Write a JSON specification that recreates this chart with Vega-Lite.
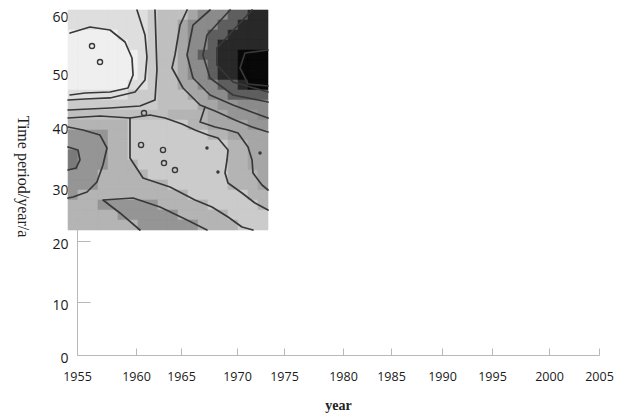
{
"$schema": "https://vega.github.io/schema/vega-lite/v6.json",
"width": 522, "height": 341,
"autosize": {"type": "none"},
"padding": {"left": 77, "top": 14, "right": 28, "bottom": 60},
"background": "white",
"config": {"view": {"stroke": null}, "axis": {"grid": false, "domainColor": "#b8b8b8", "tickColor": "#b8b8b8", "labelFont": "Open Sans", "labelColor": "#1a1a1a", "titleFont": "Liberation Serif", "titleColor": "#222222"}},
"datasets": {
"cols": [{"c":0,"x0":1954.24,"x1":1955.08},{"c":1,"x0":1955.08,"x1":1955.93},{"c":2,"x0":1955.93,"x1":1956.78},{"c":3,"x0":1956.78,"x1":1957.63},{"c":4,"x0":1957.63,"x1":1958.47},{"c":5,"x0":1958.47,"x1":1959.32},{"c":6,"x0":1959.32,"x1":1960.22},{"c":7,"x0":1960.22,"x1":1961.33},{"c":8,"x0":1961.33,"x1":1962.44},{"c":9,"x0":1962.44,"x1":1963.56},{"c":10,"x0":1963.56,"x1":1964.67},{"c":11,"x0":1964.67,"x1":1965.63},{"c":12,"x0":1965.63,"x1":1966.52},{"c":13,"x0":1966.52,"x1":1967.41},{"c":14,"x0":1967.41,"x1":1968.3},{"c":15,"x0":1968.3,"x1":1969.2},{"c":16,"x0":1969.2,"x1":1970.11},{"c":17,"x0":1970.11,"x1":1971.17},{"c":18,"x0":1971.17,"x1":1972.23},{"c":19,"x0":1972.23,"x1":1973.3}],
"rows": [{"r":0,"y0":60.69,"y1":58.97},{"r":1,"y0":58.97,"y1":57.24},{"r":2,"y0":57.24,"y1":55.52},{"r":3,"y0":55.52,"y1":53.79},{"r":4,"y0":53.79,"y1":52.07},{"r":5,"y0":52.07,"y1":50.34},{"r":6,"y0":50.34,"y1":48.52},{"r":7,"y0":48.52,"y1":46.67},{"r":8,"y0":46.67,"y1":44.81},{"r":9,"y0":44.81,"y1":42.96},{"r":10,"y0":42.96,"y1":41.11},{"r":11,"y0":41.11,"y1":39.34},{"r":12,"y0":39.34,"y1":37.7},{"r":13,"y0":37.7,"y1":36.07},{"r":14,"y0":36.07,"y1":34.43},{"r":15,"y0":34.43,"y1":32.79},{"r":16,"y0":32.79,"y1":31.15},{"r":17,"y0":31.15,"y1":29.44},{"r":18,"y0":29.44,"y1":27.59},{"r":19,"y0":27.59,"y1":25.74},{"r":20,"y0":25.74,"y1":23.89},{"r":21,"y0":23.89,"y1":22.04}],
"cells": [
{"c":0,"r":0,"v":1},{"c":1,"r":0,"v":1},{"c":2,"r":0,"v":1},{"c":3,"r":0,"v":1},{"c":4,"r":0,"v":1},{"c":5,"r":0,"v":1},{"c":6,"r":0,"v":1},{"c":7,"r":0,"v":1},{"c":8,"r":0,"v":2},{"c":9,"r":0,"v":3},{"c":10,"r":0,"v":3},{"c":11,"r":0,"v":3},{"c":12,"r":0,"v":5},{"c":13,"r":0,"v":7},{"c":14,"r":0,"v":7},{"c":15,"r":0,"v":7},{"c":16,"r":0,"v":9},{"c":17,"r":0,"v":9},{"c":18,"r":0,"v":11},{"c":19,"r":0,"v":11},
{"c":0,"r":1,"v":1},{"c":1,"r":1,"v":1},{"c":2,"r":1,"v":1},{"c":3,"r":1,"v":1},{"c":4,"r":1,"v":1},{"c":5,"r":1,"v":1},{"c":6,"r":1,"v":1},{"c":7,"r":1,"v":1},{"c":8,"r":1,"v":2},{"c":9,"r":1,"v":3},{"c":10,"r":1,"v":3},{"c":11,"r":1,"v":5},{"c":12,"r":1,"v":7},{"c":13,"r":1,"v":7},{"c":14,"r":1,"v":7},{"c":15,"r":1,"v":9},{"c":16,"r":1,"v":9},{"c":17,"r":1,"v":11},{"c":18,"r":1,"v":11},{"c":19,"r":1,"v":11},
{"c":0,"r":2,"v":0},{"c":1,"r":2,"v":0},{"c":2,"r":2,"v":0},{"c":3,"r":2,"v":0},{"c":4,"r":2,"v":0},{"c":5,"r":2,"v":1},{"c":6,"r":2,"v":1},{"c":7,"r":2,"v":1},{"c":8,"r":2,"v":2},{"c":9,"r":2,"v":3},{"c":10,"r":2,"v":3},{"c":11,"r":2,"v":5},{"c":12,"r":2,"v":7},{"c":13,"r":2,"v":7},{"c":14,"r":2,"v":9},{"c":15,"r":2,"v":9},{"c":16,"r":2,"v":11},{"c":17,"r":2,"v":11},{"c":18,"r":2,"v":11},{"c":19,"r":2,"v":11},
{"c":0,"r":3,"v":0},{"c":1,"r":3,"v":0},{"c":2,"r":3,"v":0},{"c":3,"r":3,"v":0},{"c":4,"r":3,"v":0},{"c":5,"r":3,"v":0},{"c":6,"r":3,"v":1},{"c":7,"r":3,"v":1},{"c":8,"r":3,"v":2},{"c":9,"r":3,"v":3},{"c":10,"r":3,"v":3},{"c":11,"r":3,"v":5},{"c":12,"r":3,"v":7},{"c":13,"r":3,"v":7},{"c":14,"r":3,"v":9},{"c":15,"r":3,"v":11},{"c":16,"r":3,"v":11},{"c":17,"r":3,"v":11},{"c":18,"r":3,"v":11},{"c":19,"r":3,"v":11},
{"c":0,"r":4,"v":0},{"c":1,"r":4,"v":0},{"c":2,"r":4,"v":0},{"c":3,"r":4,"v":0},{"c":4,"r":4,"v":0},{"c":5,"r":4,"v":0},{"c":6,"r":4,"v":0},{"c":7,"r":4,"v":1},{"c":8,"r":4,"v":2},{"c":9,"r":4,"v":3},{"c":10,"r":4,"v":3},{"c":11,"r":4,"v":5},{"c":12,"r":4,"v":7},{"c":13,"r":4,"v":9},{"c":14,"r":4,"v":9},{"c":15,"r":4,"v":11},{"c":16,"r":4,"v":11},{"c":17,"r":4,"v":12},{"c":18,"r":4,"v":12},{"c":19,"r":4,"v":12},
{"c":0,"r":5,"v":0},{"c":1,"r":5,"v":0},{"c":2,"r":5,"v":0},{"c":3,"r":5,"v":0},{"c":4,"r":5,"v":0},{"c":5,"r":5,"v":0},{"c":6,"r":5,"v":0},{"c":7,"r":5,"v":1},{"c":8,"r":5,"v":2},{"c":9,"r":5,"v":3},{"c":10,"r":5,"v":3},{"c":11,"r":5,"v":5},{"c":12,"r":5,"v":7},{"c":13,"r":5,"v":7},{"c":14,"r":5,"v":9},{"c":15,"r":5,"v":11},{"c":16,"r":5,"v":11},{"c":17,"r":5,"v":12},{"c":18,"r":5,"v":12},{"c":19,"r":5,"v":12},
{"c":0,"r":6,"v":0},{"c":1,"r":6,"v":0},{"c":2,"r":6,"v":0},{"c":3,"r":6,"v":0},{"c":4,"r":6,"v":0},{"c":5,"r":6,"v":0},{"c":6,"r":6,"v":0},{"c":7,"r":6,"v":1},{"c":8,"r":6,"v":2},{"c":9,"r":6,"v":3},{"c":10,"r":6,"v":3},{"c":11,"r":6,"v":5},{"c":12,"r":6,"v":7},{"c":13,"r":6,"v":7},{"c":14,"r":6,"v":9},{"c":15,"r":6,"v":11},{"c":16,"r":6,"v":11},{"c":17,"r":6,"v":12},{"c":18,"r":6,"v":12},{"c":19,"r":6,"v":12},
{"c":0,"r":7,"v":0},{"c":1,"r":7,"v":0},{"c":2,"r":7,"v":0},{"c":3,"r":7,"v":0},{"c":4,"r":7,"v":0},{"c":5,"r":7,"v":0},{"c":6,"r":7,"v":1},{"c":7,"r":7,"v":1},{"c":8,"r":7,"v":2},{"c":9,"r":7,"v":3},{"c":10,"r":7,"v":3},{"c":11,"r":7,"v":5},{"c":12,"r":7,"v":5},{"c":13,"r":7,"v":7},{"c":14,"r":7,"v":7},{"c":15,"r":7,"v":9},{"c":16,"r":7,"v":9},{"c":17,"r":7,"v":11},{"c":18,"r":7,"v":12},{"c":19,"r":7,"v":12},
{"c":0,"r":8,"v":1},{"c":1,"r":8,"v":1},{"c":2,"r":8,"v":1},{"c":3,"r":8,"v":1},{"c":4,"r":8,"v":1},{"c":5,"r":8,"v":1},{"c":6,"r":8,"v":2},{"c":7,"r":8,"v":2},{"c":8,"r":8,"v":2},{"c":9,"r":8,"v":3},{"c":10,"r":8,"v":3},{"c":11,"r":8,"v":3},{"c":12,"r":8,"v":5},{"c":13,"r":8,"v":5},{"c":14,"r":8,"v":7},{"c":15,"r":8,"v":7},{"c":16,"r":8,"v":9},{"c":17,"r":8,"v":9},{"c":18,"r":8,"v":9},{"c":19,"r":8,"v":9},
{"c":0,"r":9,"v":2},{"c":1,"r":9,"v":2},{"c":2,"r":9,"v":2},{"c":3,"r":9,"v":2},{"c":4,"r":9,"v":2},{"c":5,"r":9,"v":2},{"c":6,"r":9,"v":2},{"c":7,"r":9,"v":2},{"c":8,"r":9,"v":2},{"c":9,"r":9,"v":3},{"c":10,"r":9,"v":3},{"c":11,"r":9,"v":3},{"c":12,"r":9,"v":3},{"c":13,"r":9,"v":5},{"c":14,"r":9,"v":5},{"c":15,"r":9,"v":6},{"c":16,"r":9,"v":6},{"c":17,"r":9,"v":7},{"c":18,"r":9,"v":7},{"c":19,"r":9,"v":7},
{"c":0,"r":10,"v":3},{"c":1,"r":10,"v":3},{"c":2,"r":10,"v":3},{"c":3,"r":10,"v":3},{"c":4,"r":10,"v":3},{"c":5,"r":10,"v":3},{"c":6,"r":10,"v":3},{"c":7,"r":10,"v":3},{"c":8,"r":10,"v":3},{"c":9,"r":10,"v":3},{"c":10,"r":10,"v":4},{"c":11,"r":10,"v":4},{"c":12,"r":10,"v":4},{"c":13,"r":10,"v":4},{"c":14,"r":10,"v":5},{"c":15,"r":10,"v":5},{"c":16,"r":10,"v":6},{"c":17,"r":10,"v":6},{"c":18,"r":10,"v":6},{"c":19,"r":10,"v":7},
{"c":0,"r":11,"v":4},{"c":1,"r":11,"v":4},{"c":2,"r":11,"v":4},{"c":3,"r":11,"v":4},{"c":4,"r":11,"v":4},{"c":5,"r":11,"v":4},{"c":6,"r":11,"v":2},{"c":7,"r":11,"v":2},{"c":8,"r":11,"v":2},{"c":9,"r":11,"v":2},{"c":10,"r":11,"v":2},{"c":11,"r":11,"v":2},{"c":12,"r":11,"v":4},{"c":13,"r":11,"v":4},{"c":14,"r":11,"v":5},{"c":15,"r":11,"v":5},{"c":16,"r":11,"v":5},{"c":17,"r":11,"v":5},{"c":18,"r":11,"v":6},{"c":19,"r":11,"v":6},
{"c":0,"r":12,"v":6},{"c":1,"r":12,"v":6},{"c":2,"r":12,"v":6},{"c":3,"r":12,"v":6},{"c":4,"r":12,"v":4},{"c":5,"r":12,"v":4},{"c":6,"r":12,"v":2},{"c":7,"r":12,"v":2},{"c":8,"r":12,"v":2},{"c":9,"r":12,"v":2},{"c":10,"r":12,"v":2},{"c":11,"r":12,"v":2},{"c":12,"r":12,"v":2},{"c":13,"r":12,"v":2},{"c":14,"r":12,"v":4},{"c":15,"r":12,"v":4},{"c":16,"r":12,"v":5},{"c":17,"r":12,"v":5},{"c":18,"r":12,"v":5},{"c":19,"r":12,"v":5},
{"c":0,"r":13,"v":6},{"c":1,"r":13,"v":6},{"c":2,"r":13,"v":6},{"c":3,"r":13,"v":6},{"c":4,"r":13,"v":4},{"c":5,"r":13,"v":4},{"c":6,"r":13,"v":2},{"c":7,"r":13,"v":2},{"c":8,"r":13,"v":2},{"c":9,"r":13,"v":2},{"c":10,"r":13,"v":2},{"c":11,"r":13,"v":2},{"c":12,"r":13,"v":2},{"c":13,"r":13,"v":2},{"c":14,"r":13,"v":2},{"c":15,"r":13,"v":2},{"c":16,"r":13,"v":4},{"c":17,"r":13,"v":4},{"c":18,"r":13,"v":5},{"c":19,"r":13,"v":5},
{"c":0,"r":14,"v":8},{"c":1,"r":14,"v":6},{"c":2,"r":14,"v":6},{"c":3,"r":14,"v":6},{"c":4,"r":14,"v":4},{"c":5,"r":14,"v":4},{"c":6,"r":14,"v":2},{"c":7,"r":14,"v":2},{"c":8,"r":14,"v":2},{"c":9,"r":14,"v":2},{"c":10,"r":14,"v":2},{"c":11,"r":14,"v":2},{"c":12,"r":14,"v":2},{"c":13,"r":14,"v":2},{"c":14,"r":14,"v":2},{"c":15,"r":14,"v":2},{"c":16,"r":14,"v":4},{"c":17,"r":14,"v":4},{"c":18,"r":14,"v":5},{"c":19,"r":14,"v":5},
{"c":0,"r":15,"v":8},{"c":1,"r":15,"v":6},{"c":2,"r":15,"v":6},{"c":3,"r":15,"v":6},{"c":4,"r":15,"v":4},{"c":5,"r":15,"v":4},{"c":6,"r":15,"v":4},{"c":7,"r":15,"v":2},{"c":8,"r":15,"v":2},{"c":9,"r":15,"v":2},{"c":10,"r":15,"v":2},{"c":11,"r":15,"v":2},{"c":12,"r":15,"v":2},{"c":13,"r":15,"v":2},{"c":14,"r":15,"v":2},{"c":15,"r":15,"v":2},{"c":16,"r":15,"v":4},{"c":17,"r":15,"v":4},{"c":18,"r":15,"v":5},{"c":19,"r":15,"v":5},
{"c":0,"r":16,"v":6},{"c":1,"r":16,"v":6},{"c":2,"r":16,"v":6},{"c":3,"r":16,"v":4},{"c":4,"r":16,"v":4},{"c":5,"r":16,"v":4},{"c":6,"r":16,"v":4},{"c":7,"r":16,"v":4},{"c":8,"r":16,"v":2},{"c":9,"r":16,"v":2},{"c":10,"r":16,"v":2},{"c":11,"r":16,"v":2},{"c":12,"r":16,"v":2},{"c":13,"r":16,"v":2},{"c":14,"r":16,"v":2},{"c":15,"r":16,"v":2},{"c":16,"r":16,"v":4},{"c":17,"r":16,"v":4},{"c":18,"r":16,"v":4},{"c":19,"r":16,"v":5},
{"c":0,"r":17,"v":6},{"c":1,"r":17,"v":6},{"c":2,"r":17,"v":6},{"c":3,"r":17,"v":4},{"c":4,"r":17,"v":4},{"c":5,"r":17,"v":4},{"c":6,"r":17,"v":4},{"c":7,"r":17,"v":4},{"c":8,"r":17,"v":4},{"c":9,"r":17,"v":4},{"c":10,"r":17,"v":2},{"c":11,"r":17,"v":2},{"c":12,"r":17,"v":2},{"c":13,"r":17,"v":2},{"c":14,"r":17,"v":2},{"c":15,"r":17,"v":2},{"c":16,"r":17,"v":4},{"c":17,"r":17,"v":4},{"c":18,"r":17,"v":4},{"c":19,"r":17,"v":5},
{"c":0,"r":18,"v":6},{"c":1,"r":18,"v":4},{"c":2,"r":18,"v":4},{"c":3,"r":18,"v":4},{"c":4,"r":18,"v":4},{"c":5,"r":18,"v":4},{"c":6,"r":18,"v":4},{"c":7,"r":18,"v":4},{"c":8,"r":18,"v":4},{"c":9,"r":18,"v":4},{"c":10,"r":18,"v":4},{"c":11,"r":18,"v":4},{"c":12,"r":18,"v":2},{"c":13,"r":18,"v":2},{"c":14,"r":18,"v":2},{"c":15,"r":18,"v":2},{"c":16,"r":18,"v":2},{"c":17,"r":18,"v":2},{"c":18,"r":18,"v":4},{"c":19,"r":18,"v":4},
{"c":0,"r":19,"v":4},{"c":1,"r":19,"v":4},{"c":2,"r":19,"v":4},{"c":3,"r":19,"v":6},{"c":4,"r":19,"v":6},{"c":5,"r":19,"v":6},{"c":6,"r":19,"v":6},{"c":7,"r":19,"v":6},{"c":8,"r":19,"v":6},{"c":9,"r":19,"v":4},{"c":10,"r":19,"v":4},{"c":11,"r":19,"v":4},{"c":12,"r":19,"v":4},{"c":13,"r":19,"v":4},{"c":14,"r":19,"v":2},{"c":15,"r":19,"v":2},{"c":16,"r":19,"v":2},{"c":17,"r":19,"v":2},{"c":18,"r":19,"v":2},{"c":19,"r":19,"v":4},
{"c":0,"r":20,"v":4},{"c":1,"r":20,"v":4},{"c":2,"r":20,"v":4},{"c":3,"r":20,"v":4},{"c":4,"r":20,"v":4},{"c":5,"r":20,"v":6},{"c":6,"r":20,"v":6},{"c":7,"r":20,"v":6},{"c":8,"r":20,"v":6},{"c":9,"r":20,"v":6},{"c":10,"r":20,"v":6},{"c":11,"r":20,"v":4},{"c":12,"r":20,"v":4},{"c":13,"r":20,"v":4},{"c":14,"r":20,"v":4},{"c":15,"r":20,"v":4},{"c":16,"r":20,"v":2},{"c":17,"r":20,"v":2},{"c":18,"r":20,"v":2},{"c":19,"r":20,"v":2},
{"c":0,"r":21,"v":4},{"c":1,"r":21,"v":4},{"c":2,"r":21,"v":4},{"c":3,"r":21,"v":4},{"c":4,"r":21,"v":4},{"c":5,"r":21,"v":4},{"c":6,"r":21,"v":4},{"c":7,"r":21,"v":6},{"c":8,"r":21,"v":6},{"c":9,"r":21,"v":6},{"c":10,"r":21,"v":6},{"c":11,"r":21,"v":6},{"c":12,"r":21,"v":6},{"c":13,"r":21,"v":4},{"c":14,"r":21,"v":4},{"c":15,"r":21,"v":4},{"c":16,"r":21,"v":4},{"c":17,"r":21,"v":2},{"c":18,"r":21,"v":2},{"c":19,"r":21,"v":2}
],
"lines": [
{"id":"A","i":0,"yr":1954.41,"p":56.72},{"id":"A","i":1,"yr":1956.1,"p":57.76},{"id":"A","i":2,"yr":1957.8,"p":57.24},{"id":"A","i":3,"yr":1959.07,"p":55.17},{"id":"A","i":4,"yr":1959.66,"p":52.41},{"id":"A","i":5,"yr":1959.75,"p":49.44},{"id":"A","i":6,"yr":1959.32,"p":47.04},{"id":"A","i":7,"yr":1957.8,"p":46.3},{"id":"A","i":8,"yr":1955.68,"p":46.11},{"id":"A","i":9,"yr":1954.41,"p":45.74},
{"id":"B","i":0,"yr":1960.11,"p":60.69},{"id":"B","i":1,"yr":1961.0,"p":56.38},{"id":"B","i":2,"yr":1961.22,"p":52.59},{"id":"B","i":3,"yr":1961.0,"p":48.52},{"id":"B","i":4,"yr":1959.92,"p":46.3},{"id":"B","i":5,"yr":1957.8,"p":45.19},{"id":"B","i":6,"yr":1955.68,"p":45.0},{"id":"B","i":7,"yr":1954.24,"p":44.81},
{"id":"C","i":0,"yr":1962.11,"p":60.69},{"id":"C","i":1,"yr":1962.22,"p":55.52},{"id":"C","i":2,"yr":1962.33,"p":50.34},{"id":"C","i":3,"yr":1962.11,"p":44.81},{"id":"C","i":4,"yr":1960.44,"p":43.7},{"id":"C","i":5,"yr":1957.8,"p":43.33},{"id":"C","i":6,"yr":1954.24,"p":42.96},
{"id":"D","i":0,"yr":1965.54,"p":60.69},{"id":"D","i":1,"yr":1964.89,"p":58.1},{"id":"D","i":2,"yr":1964.33,"p":52.93},{"id":"D","i":3,"yr":1964.0,"p":50.69},{"id":"D","i":4,"yr":1965.18,"p":47.04},{"id":"D","i":5,"yr":1966.7,"p":43.89},{"id":"D","i":6,"yr":1968.04,"p":42.78},{"id":"D","i":7,"yr":1969.82,"p":41.11},{"id":"D","i":8,"yr":1971.6,"p":39.84},{"id":"D","i":9,"yr":1973.3,"p":39.02},
{"id":"E","i":0,"yr":1967.59,"p":60.69},{"id":"E","i":1,"yr":1966.07,"p":58.1},{"id":"E","i":2,"yr":1965.54,"p":52.93},{"id":"E","i":3,"yr":1966.07,"p":48.89},{"id":"E","i":4,"yr":1967.59,"p":45.74},{"id":"E","i":5,"yr":1969.64,"p":43.89},{"id":"E","i":6,"yr":1973.3,"p":41.48},
{"id":"F","i":0,"yr":1969.38,"p":60.69},{"id":"F","i":1,"yr":1967.32,"p":56.38},{"id":"F","i":2,"yr":1966.96,"p":52.93},{"id":"F","i":3,"yr":1967.59,"p":48.89},{"id":"F","i":4,"yr":1969.64,"p":45.74},{"id":"F","i":5,"yr":1973.3,"p":44.44},
{"id":"G","i":0,"yr":1971.6,"p":60.69},{"id":"G","i":1,"yr":1968.21,"p":54.14},{"id":"G","i":2,"yr":1968.21,"p":51.21},{"id":"G","i":3,"yr":1969.64,"p":48.15},{"id":"G","i":4,"yr":1973.3,"p":46.3},
{"id":"H","i":0,"yr":1973.3,"p":53.79},{"id":"H","i":1,"yr":1970.85,"p":53.28},{"id":"H","i":2,"yr":1970.32,"p":50.69},{"id":"H","i":3,"yr":1971.17,"p":47.78},{"id":"H","i":4,"yr":1973.3,"p":47.41},
{"id":"I","i":0,"yr":1954.24,"p":41.48},{"id":"I","i":1,"yr":1956.95,"p":41.85},{"id":"I","i":2,"yr":1959.49,"p":41.48},
{"id":"J","i":0,"yr":1954.24,"p":39.84},{"id":"J","i":1,"yr":1955.51,"p":39.34},{"id":"J","i":2,"yr":1956.95,"p":38.52},{"id":"J","i":3,"yr":1957.54,"p":36.39},{"id":"J","i":4,"yr":1957.2,"p":33.61},{"id":"J","i":5,"yr":1956.69,"p":30.82},{"id":"J","i":6,"yr":1955.85,"p":29.07},{"id":"J","i":7,"yr":1954.66,"p":28.15},{"id":"J","i":8,"yr":1954.24,"p":27.96},
{"id":"K","i":0,"yr":1959.49,"p":41.48},{"id":"K","i":1,"yr":1961.56,"p":42.04},{"id":"K","i":2,"yr":1963.22,"p":41.48},{"id":"K","i":3,"yr":1965.09,"p":40.37},{"id":"K","i":4,"yr":1966.25,"p":39.34},{"id":"K","i":5,"yr":1967.41,"p":38.52},{"id":"K","i":6,"yr":1968.3,"p":38.03},{"id":"K","i":7,"yr":1969.2,"p":36.07},{"id":"K","i":8,"yr":1969.11,"p":34.43},{"id":"K","i":9,"yr":1968.93,"p":32.3},{"id":"K","i":10,"yr":1969.2,"p":30.66},{"id":"K","i":11,"yr":1970.53,"p":28.89},{"id":"K","i":12,"yr":1971.91,"p":27.04},{"id":"K","i":13,"yr":1973.3,"p":25.74},
{"id":"L","i":0,"yr":1959.49,"p":41.48},{"id":"L","i":1,"yr":1959.49,"p":34.75},{"id":"L","i":2,"yr":1960.78,"p":31.48},{"id":"L","i":3,"yr":1963.78,"p":30.0},{"id":"L","i":4,"yr":1966.25,"p":27.59},{"id":"L","i":5,"yr":1967.77,"p":26.3},{"id":"L","i":6,"yr":1969.2,"p":24.44},{"id":"L","i":7,"yr":1970.53,"p":22.59},{"id":"L","i":8,"yr":1971.7,"p":22.04},
{"id":"M","i":0,"yr":1960.44,"p":22.04},{"id":"M","i":1,"yr":1958.64,"p":25.19},{"id":"M","i":2,"yr":1957.2,"p":27.59},{"id":"M","i":3,"yr":1959.75,"p":27.96},{"id":"M","i":4,"yr":1962.67,"p":26.3},{"id":"M","i":5,"yr":1965.54,"p":23.89},{"id":"M","i":6,"yr":1967.32,"p":22.04},
{"id":"O","i":0,"yr":1954.24,"p":36.56},{"id":"O","i":1,"yr":1955.08,"p":36.07},{"id":"O","i":2,"yr":1955.25,"p":34.43},{"id":"O","i":3,"yr":1954.92,"p":33.11},{"id":"O","i":4,"yr":1954.24,"p":32.79},
{"id":"P","i":0,"yr":1967.14,"p":43.52},{"id":"P","i":1,"yr":1966.7,"p":40.74},{"id":"P","i":2,"yr":1968.04,"p":39.84},{"id":"P","i":3,"yr":1969.2,"p":39.34},{"id":"P","i":4,"yr":1970.11,"p":38.85},{"id":"P","i":5,"yr":1971.17,"p":36.56},{"id":"P","i":6,"yr":1971.6,"p":34.43},{"id":"P","i":7,"yr":1971.7,"p":32.3},{"id":"P","i":8,"yr":1972.66,"p":30.33},{"id":"P","i":9,"yr":1973.3,"p":29.44}
],
"loops": [{"yr":1960.56,"p":36.89},{"yr":1963.0,"p":36.07},{"yr":1963.11,"p":33.93},{"yr":1964.33,"p":32.79},{"yr":1956.27,"p":54.48},{"yr":1956.95,"p":51.72},{"yr":1960.89,"p":42.41}],
"dots": [{"yr":1967.32,"p":36.39},{"yr":1968.3,"p":32.46},{"yr":1972.45,"p":35.57}]
},
"layer": [
{
"data": {"name": "cells"},
"transform": [
{"lookup": "c", "from": {"data": {"name": "cols"}, "key": "c", "fields": ["x0", "x1"]}},
{"lookup": "r", "from": {"data": {"name": "rows"}, "key": "r", "fields": ["y0", "y1"]}}
],
"mark": {"type": "rect", "strokeWidth": 0.6},
"encoding": {
"x": {"field": "x0", "type": "quantitative",
 "scale": {"domain": [1955,1960,1965,1970,1975,1980,1985,1990,1995,2000,2005], "range": [0,59,104,160,207,266,314,365,415,472,522], "nice": false, "zero": false},
 "axis": {"values": [1955,1960,1965,1970,1975,1980,1985,1990,1995,2000,2005], "format": "d", "tickSize": -7, "labelPadding": 22, "labelFontSize": 12.5, "labelFlush": false, "title": "year", "titleFontSize": 14, "titleFontWeight": "bold", "titleBaseline": "alphabetic", "titleY": 54}},
"x2": {"field": "x1"},
"y": {"field": "y0", "type": "quantitative",
 "scale": {"domain": [0,10,20,30,40,50,60], "range": [341,288,227,173,112,58,0], "nice": false, "zero": false},
 "axis": {"values": [0,10,20,30,40,50,60], "format": "d", "tickSize": -13, "labelPadding": 22, "labelFontSize": 14, "labelOffset": 3, "title": "Time period/year/a", "titleAngle": 90, "titleX": -55, "titleY": 162, "titleFontSize": 16, "titleFontWeight": "normal", "titleBaseline": "middle"}},
"y2": {"field": "y1"},
"color": {"field": "v", "type": "ordinal", "legend": null,
 "scale": {"domain": [0,1,2,3,4,5,6,7,8,9,10,11,12], "range": ["#efefef","#dedede","#cbcbcb","#bfbfbf","#b4b4b4","#a6a6a6","#959595","#8b8b8b","#7a7a7a","#5e5e5e","#404040","#282828","#080808"]}},
"stroke": {"field": "v", "type": "ordinal", "legend": null,
 "scale": {"domain": [0,1,2,3,4,5,6,7,8,9,10,11,12], "range": ["#efefef","#dedede","#cbcbcb","#bfbfbf","#b4b4b4","#a6a6a6","#959595","#8b8b8b","#7a7a7a","#5e5e5e","#404040","#282828","#080808"]}}
}
},
{
"data": {"name": "lines"},
"mark": {"type": "line", "color": "#383838", "strokeWidth": 1.7, "strokeJoin": "round", "strokeCap": "round"},
"encoding": {
"x": {"field": "yr", "type": "quantitative", "title": "year"},
"y": {"field": "p", "type": "quantitative", "title": "Time period/year/a"},
"detail": {"field": "id"},
"order": {"field": "i", "type": "quantitative"}
}
},
{
"data": {"name": "loops"},
"mark": {"type": "point", "shape": "circle", "filled": false, "size": 26, "stroke": "#383838", "strokeWidth": 1.4, "opacity": 1},
"encoding": {
"x": {"field": "yr", "type": "quantitative", "title": "year"},
"y": {"field": "p", "type": "quantitative", "title": "Time period/year/a"}
}
},
{
"data": {"name": "dots"},
"mark": {"type": "point", "shape": "circle", "filled": true, "size": 12, "color": "#383838", "opacity": 1},
"encoding": {
"x": {"field": "yr", "type": "quantitative", "title": "year"},
"y": {"field": "p", "type": "quantitative", "title": "Time period/year/a"}
}
}
]
}
